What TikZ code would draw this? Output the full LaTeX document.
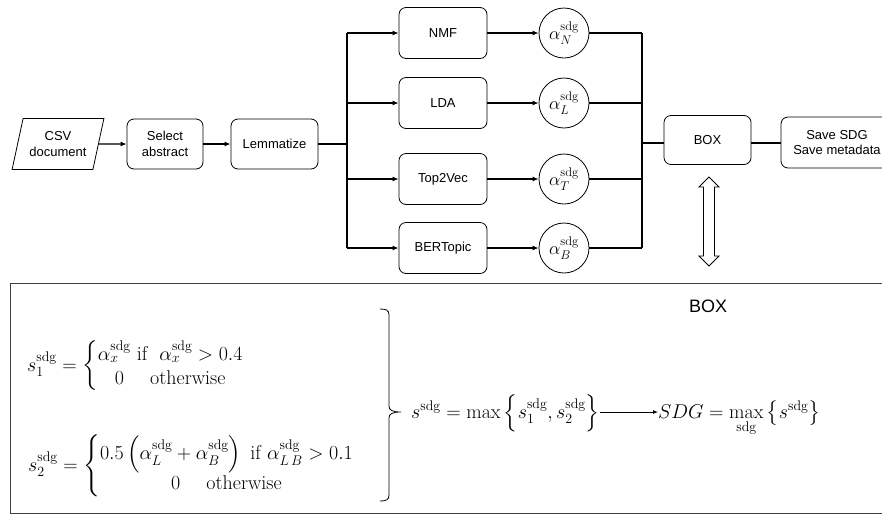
\RequirePackage{fix-cm}
\documentclass[tikz,border=0pt]{standalone}
\usepackage{amsmath}
\usepackage{fontspec}
\newfontfamily\arialf{Liberation Sans}
\usetikzlibrary{arrows.meta,shapes.geometric,calc}
\begin{document}
\begin{tikzpicture}[x=1pt,y=-1pt,
 box/.style={draw, rounded corners=7pt, line width=0.8pt, font=\arialf\fontsize{13}{15.5}\selectfont, align=center, inner sep=0pt},
 circ/.style={draw, circle, minimum size=50pt, inner sep=0pt, line width=0.8pt, font=\fontsize{18}{20}\selectfont},
 conn/.style={line width=1.6pt},
 arr/.style={line width=1.3pt, -{Latex[length=6pt,width=5pt]}},
 eq/.style={inner sep=0pt, font=\fontsize{20}{24}\selectfont}]
\useasboundingbox (0,0) rectangle (882,523);
\clip (0,0) rectangle (882,523);
% top flow
\node[draw, trapezium, trapezium left angle=70, trapezium right angle=110, trapezium stretches=true,
  minimum width=92pt, minimum height=51pt, line width=0.8pt, inner sep=0pt, align=center,
  font=\arialf\fontsize{13}{15.5}\selectfont] (csv) at (58,144) {CSV\\document};
\node[box, minimum width=76pt, minimum height=50pt] (sel) at (165,144) {Select\\abstract};
\node[box, minimum width=87pt, minimum height=50pt] (lem) at (274.5,144) {Lemmatize};
\node[box, minimum width=88pt, minimum height=51pt] (nmf) at (443,33) {NMF};
\node[box, minimum width=88pt, minimum height=51pt] (lda) at (443,103) {LDA};
\node[box, minimum width=88pt, minimum height=51pt] (t2v) at (443,179) {Top2Vec};
\node[box, minimum width=88pt, minimum height=51pt] (bert) at (443,248) {BERTopic};
\node[circ] (aN) at (564,33) {$\alpha_N^{\mathrm{sdg}}$};
\node[circ] (aL) at (564,103) {$\alpha_L^{\mathrm{sdg}}$};
\node[circ] (aT) at (564,179) {$\alpha_T^{\mathrm{sdg}}$};
\node[circ] (aB) at (564,248) {$\alpha_B^{\mathrm{sdg}}$};
\node[box, minimum width=87pt, minimum height=49pt] (box) at (707.5,140) {BOX};
\node[box, minimum width=112pt, minimum height=51pt] (save) at (837,142.5) {Save SDG\\Save metadata};
\coordinate (busL) at (347,144);
\coordinate (busR) at (642,143);
\draw[arr] (csv.east) -- (sel.west);
\draw[arr] (sel.east) -- (lem.west);
\draw[conn] (lem.east) -- (busL);
\draw[conn] (busL |- nmf.west) -- (busL |- bert.west);
\foreach \n in {nmf,lda,t2v,bert}{\draw[arr] (busL |- \n.west) -- (\n.west);}
\draw[arr] (nmf.east) -- (aN.west);
\draw[arr] (lda.east) -- (aL.west);
\draw[arr] (t2v.east) -- (aT.west);
\draw[arr] (bert.east) -- (aB.west);
\foreach \n in {aN,aL,aT,aB}{\draw[conn] (\n.east) -- (busR |- \n.east);}
\draw[conn] (busR |- aN.east) -- (busR |- aB.east);
\draw[conn] (busR) -- (box.west |- busR);
\draw[conn] (box.east |- busR) -- (save.west |- busR);
% hollow double arrow
\draw[line width=0.8pt] (709,177) -- (719,187) -- (714.5,187) -- (714.5,256) -- (719,256) -- (709,266)
  -- (699,256) -- (703.5,256) -- (703.5,187) -- (699,187) -- cycle;
% lower box
\draw[line width=1pt, black!75] (10,283) rectangle (892,513);
\node[font=\arialf\fontsize{18}{20}\selectfont] (boxlabel) at (708,306) {BOX};
\node[eq, anchor=west] (s1) at (27,366) {$s_1^{\mathrm{sdg}} = \left\{\begin{array}{@{}c@{}} \alpha_x^{\mathrm{sdg}}\ \text{if}\ \ \alpha_x^{\mathrm{sdg}} > 0.4\\ 0\quad\ \text{otherwise}\end{array}\right.$};
\node[eq, anchor=west] (s2) at (28,466) {$s_2^{\mathrm{sdg}} = \left\{\begin{array}{@{}c@{}} 0.5\left(\alpha_L^{\mathrm{sdg}} + \alpha_B^{\mathrm{sdg}}\right)\ \text{if}\ \alpha_{L\,B}^{\mathrm{sdg}} > 0.1\\ 0\quad\ \text{otherwise}\end{array}\right.$};
\draw[line width=0.8pt] (380,309) .. controls (386,309) and (389,310) .. (389,315) -- (389,406)
  .. controls (389,410) and (392,412) .. (401,412)
  .. controls (392,412) and (389,414) .. (389,418) -- (389,495)
  .. controls (389,500) and (386,501) .. (380,501);
\node[eq, anchor=base west] (smax) at (411,418) {$s^{\mathrm{sdg}} = \max\left\{s_1^{\mathrm{sdg}}, s_2^{\mathrm{sdg}}\right\}$};
\node[eq, anchor=base west] (sdg) at (658,418) {$SDG = \max\limits_{\mathrm{sdg}}\left\{s^{\mathrm{sdg}}\right\}$};
\coordinate (ay) at (0,412);
\draw[line width=0.8pt, -{Latex[length=5pt,width=4pt]}] (smax.east |- ay) -- (sdg.west |- ay);
\end{tikzpicture}
\end{document}
